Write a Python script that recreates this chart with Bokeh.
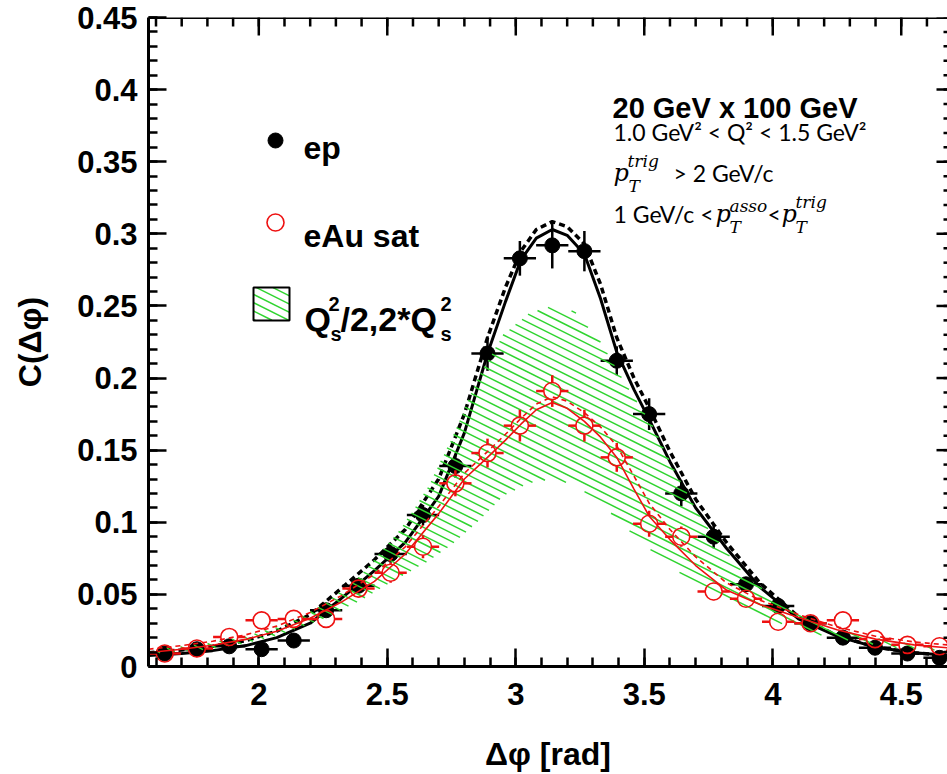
import numpy as np
from bokeh.plotting import figure
from bokeh.models import Range1d, FixedTicker, Label, Arrow, ColumnDataSource
from bokeh.embed import file_html
from bokeh.resources import INLINE

# ---------------- data ----------------
dphi = [1.634, 1.759, 1.885, 2.011, 2.136, 2.262, 2.388, 2.513, 2.639, 2.765,
        2.890, 3.016, 3.142, 3.267, 3.393, 3.519, 3.644, 3.770, 3.896, 4.021,
        4.147, 4.273, 4.398, 4.524, 4.649]
half_bin = 0.0628

ep_c = [0.009, 0.012, 0.014, 0.012, 0.018, 0.039, 0.056, 0.078, 0.105, 0.139,
        0.217, 0.283, 0.292, 0.288, 0.212, 0.175, 0.120, 0.090, 0.057, 0.042,
        0.030, 0.020, 0.013, 0.009, 0.006]
ep_err = [0.003, 0.003, 0.003, 0.003, 0.004, 0.004, 0.005, 0.006, 0.007, 0.008,
          0.012, 0.012, 0.016, 0.014, 0.010, 0.011, 0.009, 0.008, 0.005, 0.004,
          0.004, 0.003, 0.003, 0.003, 0.003]

eau_c = [0.009, 0.0125, 0.0205, 0.032, 0.033, 0.033, 0.054, 0.065, 0.083, 0.127,
         0.148, 0.167, 0.191, 0.167, 0.145, 0.099, 0.090, 0.052, 0.047, 0.031,
         0.030, 0.032, 0.019, 0.015, 0.014]
eau_err = [0.004, 0.004, 0.005, 0.005, 0.005, 0.006, 0.006, 0.007, 0.008, 0.009,
           0.010, 0.011, 0.011, 0.011, 0.010, 0.009, 0.007, 0.006, 0.005, 0.005,
           0.004, 0.004, 0.004, 0.004, 0.004]

# fitted curves
curve_x = [1.571, 1.70, 1.82, 1.95, 2.07, 2.20, 2.32, 2.45, 2.57, 2.70, 2.80, 2.89,
           2.96, 3.02, 3.08, 3.142, 3.20, 3.267, 3.33, 3.393, 3.46, 3.52, 3.60,
           3.70, 3.82, 3.95, 4.10, 4.25, 4.40, 4.55, 4.68]
ep_fit = [0.0076, 0.0090, 0.0110, 0.0145, 0.0200, 0.0300, 0.0470, 0.0665, 0.0860,
          0.1180, 0.1620, 0.2170, 0.2530, 0.2820, 0.2970, 0.3030, 0.2990, 0.2860,
          0.2550, 0.2180, 0.1920, 0.1710, 0.1420, 0.1100, 0.0820, 0.0550, 0.0330,
          0.0210, 0.0134, 0.0095, 0.0077]
ep_fit2 = [0.0095, 0.0115, 0.0140, 0.0180, 0.0245, 0.0360, 0.0540, 0.0740, 0.0950,
           0.1300, 0.1750, 0.2280, 0.2630, 0.2880, 0.3030, 0.3085, 0.3050, 0.2930,
           0.2650, 0.2280, 0.2000, 0.1790, 0.1490, 0.1160, 0.0860, 0.0580, 0.0345,
           0.0215, 0.0135, 0.0095, 0.0078]
eau_fit = [0.0097, 0.0120, 0.0147, 0.0188, 0.0245, 0.0335, 0.0445, 0.0590, 0.0780,
           0.1060, 0.1300, 0.1450, 0.1570, 0.1680, 0.1780, 0.1830, 0.1790, 0.1700,
           0.1590, 0.1450, 0.1230, 0.1040, 0.0880, 0.0700, 0.0530, 0.0430, 0.0340,
           0.0255, 0.0190, 0.0150, 0.0130]
eau_fit2 = [0.0120, 0.0145, 0.0175, 0.0220, 0.0280, 0.0375, 0.0490, 0.0640, 0.0830,
            0.1110, 0.1340, 0.1490, 0.1610, 0.1720, 0.1820, 0.1870, 0.1840, 0.1760,
            0.1660, 0.1530, 0.1320, 0.1130, 0.0950, 0.0760, 0.0580, 0.0460, 0.0360,
            0.0275, 0.0210, 0.0170, 0.0150]

# saturation band Q_s^2/2 .. 2*Q_s^2
band_x = [1.60, 1.80, 1.95, 2.10, 2.25, 2.40, 2.55, 2.65, 2.75, 2.85, 2.95, 3.05,
          3.142, 3.23, 3.33, 3.43, 3.53, 3.63, 3.73, 3.88, 4.03, 4.18, 4.33, 4.48, 4.63]
band_hi = [0.012, 0.016, 0.021, 0.029, 0.043, 0.064, 0.095, 0.122, 0.158, 0.200,
           0.230, 0.245, 0.250, 0.246, 0.225, 0.195, 0.168, 0.132, 0.100, 0.066,
           0.043, 0.030, 0.022, 0.017, 0.014]
band_lo = [0.009, 0.012, 0.016, 0.023, 0.033, 0.046, 0.062, 0.072, 0.084, 0.100,
           0.118, 0.127, 0.130, 0.126, 0.113, 0.096, 0.080, 0.066, 0.055, 0.040,
           0.030, 0.022, 0.017, 0.013, 0.011]

x_major = [2, 2.5, 3, 3.5, 4, 4.5]
x_major_labels = ["2", "2.5", "3", "3.5", "4", "4.5"]
y_major = [0, 0.05, 0.1, 0.15, 0.2, 0.25, 0.3, 0.35, 0.4, 0.45]
y_major_labels = ["0", "0.05", "0.1", "0.15", "0.2", "0.25", "0.3", "0.35", "0.4", "0.45"]

# ---------------- layout helpers ----------------
X0, X1 = 1.5708, 4.680
Y0, Y1 = 0.0, 0.45
FL, FR, FT, FB = 148, 947, 17, 666
DX = (X1 - X0) / (FR - FL)   # data per pixel
DY = (Y1 - Y0) / (FB - FT)


def px2x(px):
    return X0 + (px - FL) * DX


def py2y(py):
    return Y0 + (FB - py) * DY


p = figure(width=947, height=774, x_range=Range1d(X0, X1), y_range=Range1d(Y0, Y1),
           output_backend="svg", toolbar_location=None,
           min_border_left=FL, min_border_right=0, min_border_top=FT,
           min_border_bottom=774 - FB)
p.grid.visible = False
p.outline_line_color = None
p.background_fill_color = "white"
p.border_fill_color = "white"

x_minor = [round(v, 2) for v in np.arange(1.6, 4.69, 0.1)]
y_minor = [round(v, 3) for v in np.arange(0.0, 0.451, 0.01)]

xax = p.below[0]
yax = p.left[0]
xax.ticker = FixedTicker(ticks=x_major, minor_ticks=x_minor)
yax.ticker = FixedTicker(ticks=y_major, minor_ticks=y_minor)

for ax in [xax, yax]:
    ax.axis_line_width = 3
    ax.axis_line_color = "black"
    ax.major_tick_in = 18
    ax.major_tick_out = 0
    ax.minor_tick_in = 9
    ax.minor_tick_out = 0
    ax.major_tick_line_width = 2.5
    ax.minor_tick_line_width = 2.5
    ax.major_tick_line_color = "black"
    ax.minor_tick_line_color = "black"
    ax.major_label_text_font = "Liberation Sans"
    ax.major_label_text_font_style = "bold"
    ax.major_label_text_font_size = "31px"
    ax.major_label_text_color = "black"
    ax.axis_label_text_font = "Liberation Sans"
    ax.axis_label_text_font_style = "bold"
    ax.axis_label_text_font_size = "32px"
    ax.axis_label_text_color = "black"

xax.major_label_overrides = dict(zip([float(v) for v in x_major], x_major_labels))
yax.major_label_overrides = dict(zip([float(v) for v in y_major], y_major_labels))
xax.major_label_standoff = 16
yax.major_label_standoff = 11
xax.axis_label = "Δφ [rad]"
yax.axis_label = "C(Δφ)"
xax.axis_label_standoff = 28
yax.axis_label_standoff = 26

# ---------------- top frame line and inward ticks on top / right edges ----------------
tx0, ty0, tx1, ty1 = [], [], [], []
for v, ln in [(v, 18) for v in x_major] + [(v, 9) for v in x_minor]:
    tx0.append(float(v)); ty0.append(Y1); tx1.append(float(v)); ty1.append(Y1 - ln * DY)
for v, ln in [(v, 11) for v in y_major] + [(v, 4) for v in y_minor]:
    tx0.append(X1); ty0.append(float(v)); tx1.append(X1 - ln * DX); ty1.append(float(v))
tick_src = ColumnDataSource(dict(x0=tx0, y0=ty0, x1=tx1, y1=ty1))
p.add_layout(Arrow(end=None, source=tick_src, x_start="x0", y_start="y0",
                   x_end="x1", y_end="y1", line_color="black", line_width=2.5))
p.add_layout(Arrow(end=None, x_start=X0, y_start=Y1, x_end=X1, y_end=Y1,
                   line_color="black", line_width=3))

# ---------------- ep data ----------------
x = np.array(dphi)
ep = np.array(ep_c)
epe = np.array(ep_err)
p.segment(x - half_bin, ep, x + half_bin, ep, line_color="black", line_width=2.5)
p.segment(x, ep - epe, x, ep + epe, line_color="black", line_width=2.5)
p.scatter(x, ep, size=15, marker="circle", fill_color="black", line_color="black")

# ep fits
p.line(curve_x, ep_fit, line_color="black", line_width=3)
p.line(curve_x, ep_fit2, line_color="black", line_width=3.5, line_dash="6 4")

# ---------------- band: hatch lines clipped to the band ----------------
GREEN = "#2fd42f"
HATCH_SLOPE = 0.5      # screen pixels down per pixel right
HATCH_STEP = 8.3       # vertical spacing of hatch lines, pixels


def hatch_segments(inside, px_lo, px_hi, py_lo, py_hi):
    """Parallel descending lines, kept only where inside(x, y) is true."""
    pxs = np.arange(px_lo, px_hi + 0.5, 0.5)
    xs = px2x(pxs)
    b_min = py_lo - HATCH_SLOPE * (px_hi - FL)
    b_max = py_hi - HATCH_SLOPE * (px_lo - FL)
    out = ([], [], [], [])
    for b in np.arange(b_min, b_max + HATCH_STEP, HATCH_STEP):
        pys = b + HATCH_SLOPE * (pxs - FL)
        ys = py2y(pys)
        m = inside(xs, ys)
        if not m.any():
            continue
        d = np.diff(np.concatenate([[0], m.astype(int), [0]]))
        starts = np.where(d == 1)[0]
        ends = np.where(d == -1)[0] - 1
        for s, e in zip(starts, ends):
            if e > s:
                out[0].append(xs[s]); out[1].append(ys[s])
                out[2].append(xs[e]); out[3].append(ys[e])
    return out


bx = np.array(band_x)
blo = np.array(band_lo)
bhi = np.array(band_hi)


def in_band(xs, ys):
    lo = np.interp(xs, bx, blo, left=np.nan, right=np.nan)
    hi = np.interp(xs, bx, bhi, left=np.nan, right=np.nan)
    return (ys >= lo) & (ys <= hi)


p.varea(x=band_x, y1=band_lo, y2=band_hi, fill_color=None, fill_alpha=0)
hx0, hy0, hx1, hy1 = hatch_segments(in_band, FL, FR, FT, FB)
p.segment(hx0, hy0, hx1, hy1, line_color=GREEN, line_width=1.5)

# ---------------- eAu data ----------------
RED = "#ee1111"
ea = np.array(eau_c)
eae = np.array(eau_err)
rx = 8.5 * DX
ry = 8.5 * DY
p.segment(x - half_bin, ea, x - rx, ea, line_color=RED, line_width=2.5)
p.segment(x + rx, ea, x + half_bin, ea, line_color=RED, line_width=2.5)
mask = eae > ry
p.segment(x[mask], ea[mask] + ry, x[mask], ea[mask] + eae[mask], line_color=RED, line_width=2.5)
p.segment(x[mask], ea[mask] - ry, x[mask], ea[mask] - eae[mask], line_color=RED, line_width=2.5)
p.scatter(x, ea, size=17, marker="circle", fill_color=None, line_color=RED, line_width=1.6)

p.line(curve_x, eau_fit, line_color=RED, line_width=1.6)
p.line(curve_x, eau_fit2, line_color=RED, line_width=1.6, line_dash="5 4")

# ---------------- legend (drawn by hand) ----------------
p.scatter([px2x(275)], [py2y(140)], size=15, marker="circle", fill_color="black", line_color="black")
p.scatter([px2x(275)], [py2y(222)], size=17, marker="circle", fill_color=None, line_color=RED, line_width=1.6)
BOX = (253, 289, 287, 320)   # left, right, top, bottom in pixels


def in_box(xs, ys):
    return ((xs >= px2x(BOX[0])) & (xs <= px2x(BOX[1])) &
            (ys <= py2y(BOX[2])) & (ys >= py2y(BOX[3])))


lx0, ly0, lx1, ly1 = hatch_segments(in_box, BOX[0], BOX[1], BOX[2], BOX[3])
p.segment(lx0, ly0, lx1, ly1, line_color=GREEN, line_width=1.5)
p.quad(left=[px2x(BOX[0])], right=[px2x(BOX[1])], top=[py2y(BOX[2])], bottom=[py2y(BOX[3])],
       fill_color=None, line_color="black", line_width=2)


def add_text(text, px, py, size, font="Liberation Sans", style="bold", align="left", color="black"):
    p.add_layout(Label(x=px2x(px), y=py2y(py), text=text, text_font=font,
                       text_font_style=style, text_font_size=f"{size}px",
                       text_align=align, text_baseline="alphabetic", text_color=color))


add_text("ep", 303, 147, 32)
add_text("eAu sat", 303, 235, 32)
# Q_s^2/2,2*Q_s^2
add_text("Q", 304, 318, 34)
add_text("2", 328, 303, 20)
add_text("s", 330, 333, 20)
add_text("/2,2*Q", 340, 318, 34)
add_text("2", 440, 303, 20)
add_text("s", 440, 333, 20)

# ---------------- annotation block ----------------
add_text("20 GeV x 100 GeV", 612, 107, 29)
add_text("1.0 GeV² < Q² < 1.5 GeV²", 613, 131, 23, font="Lato", style="normal")
MATH = "DejaVu Serif"
add_text("p", 613, 172, 24, font=MATH, style="italic")
add_text("trig", 627, 160, 17, font=MATH, style="italic")
add_text("T", 628, 185, 17, font=MATH, style="italic")
add_text("> 2 GeV/c", 673, 172, 23, font="Lato", style="normal")
add_text("1 GeV/c <", 613, 213, 23, font="Lato", style="normal")
add_text("p", 715, 213, 24, font=MATH, style="italic")
add_text("asso", 729, 205, 17, font=MATH, style="italic")
add_text("T", 729, 226, 17, font=MATH, style="italic")
add_text("<", 767, 213, 23, font="Lato", style="normal")
add_text("p", 781, 213, 24, font=MATH, style="italic")
add_text("trig", 795, 201, 17, font=MATH, style="italic")
add_text("T", 795, 226, 17, font=MATH, style="italic")

open("out.html", "w").write(file_html(p, INLINE))
